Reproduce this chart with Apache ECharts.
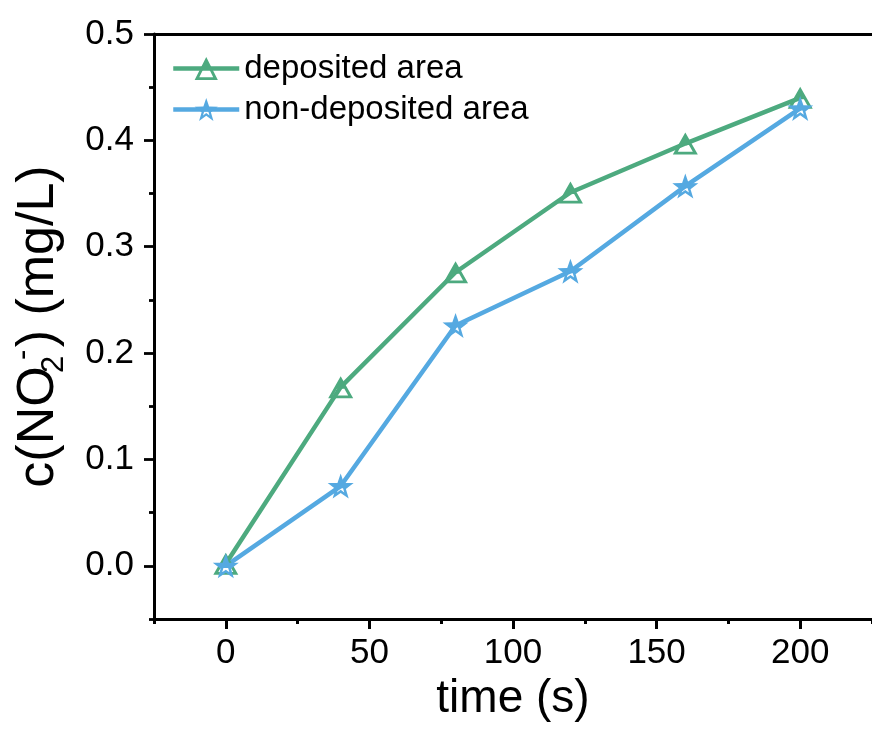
<!DOCTYPE html>
<html>
<head>
<meta charset="utf-8">
<script src="https://cdn.jsdelivr.net/npm/echarts@6/dist/echarts.min.js"></script>
<style>
  html, body { margin: 0; padding: 0; background: #ffffff; }
  #chart { width: 872px; height: 736px; }
</style>
</head>
<body>
<div id="chart"></div>
<script>
// Nitrite concentration over time
const timeSeconds = [0, 40, 80, 120, 160, 200];
const depositedArea = [0.002, 0.168, 0.276, 0.351, 0.397, 0.440];
const nonDepositedArea = [0.000, 0.075, 0.226, 0.277, 0.357, 0.430];
const seriesNames = ['deposited area', 'non-deposited area'];

// Axis ranges and tick positions
const xRange = [-25, 225];
const yRange = [-0.05, 0.5];
const xMajorTicks = [0, 50, 100, 150, 200];
const xMinorTicks = [-25, 25, 75, 125, 175, 225];
const yMajorTicks = [0, 0.1, 0.2, 0.3, 0.4, 0.5];
const yMinorTicks = [-0.05, 0.05, 0.15, 0.25, 0.35, 0.45];

const FONT = "'Liberation Sans', Arial, sans-serif";
const GREEN = '#4DAA7F';
const BLUE = '#55A9E1';
const AXIS = '#000000';

// ---- half-filled marker shapes (top half solid, bottom half hollow) ----
function polygonPath(pts) {
  return 'M' + pts.map(p => p[0].toFixed(2) + ',' + p[1].toFixed(2)).join('L') + 'Z';
}
function clipBelow(pts, cut) {
  const out = [];
  for (let i = 0; i < pts.length; i++) {
    const a = pts[i], b = pts[(i + 1) % pts.length];
    const ain = a[1] >= cut, bin = b[1] >= cut;
    if (ain) out.push(a);
    if (ain !== bin) {
      const t = (cut - a[1]) / (b[1] - a[1]);
      out.push([a[0] + t * (b[0] - a[0]), cut]);
    }
  }
  return out;
}
function halfFilledSymbol(outer, center, k, cut) {
  const inner = outer.map(p => [center[0] + k * (p[0] - center[0]), center[1] + k * (p[1] - center[1])]);
  const hole = clipBelow(inner, cut).reverse();
  return 'path://' + polygonPath(outer) + polygonPath(hole);
}

const triangleOuter = [[50, 0], [100, 100], [0, 100]];
const triangleSymbol = halfFilledSymbol(triangleOuter, [50, 69.1], 0.6, 57);

const starOuter = [];
for (let i = 0; i < 10; i++) {
  const ang = (-90 + i * 36) * Math.PI / 180;
  const r = i % 2 === 0 ? 50 : 20;
  starOuter.push([50 + r * Math.cos(ang), 50 + r * Math.sin(ang)]);
}
const starSymbol = halfFilledSymbol(starOuter, [50, 50], 0.45, 53);

const toPairs = ys => timeSeconds.map((t, i) => [t, ys[i]]);

const chart = echarts.init(document.getElementById('chart'), null, { renderer: 'canvas' });

const option = {
  animation: false,
  backgroundColor: '#ffffff',
  grid: { left: 152, top: 34, bottom: 117, right: -79, containLabel: false },
  legend: {
    orient: 'vertical',
    left: 171,
    top: 52,
    padding: 0,
    itemWidth: 66,
    itemHeight: 29,
    itemGap: 8,
    data: seriesNames,
    lineStyle: { width: 4.5 },
    textStyle: { fontFamily: FONT, fontSize: 33, color: '#000' }
  },
  xAxis: [
    {
      type: 'value', min: xRange[0], max: xRange[1], position: 'bottom',
      name: 'time (s)', nameLocation: 'middle', nameGap: 31,
      nameTextStyle: { fontFamily: FONT, fontSize: 46, color: '#000' },
      splitLine: { show: false },
      axisLine: { onZero: false, lineStyle: { color: AXIS, width: 2.8 } },
      axisTick: { show: true, customValues: xMajorTicks, length: 10, inside: false, lineStyle: { color: AXIS, width: 3 } },
      axisLabel: { customValues: xMajorTicks, margin: 17, fontFamily: FONT, fontSize: 35, color: '#000' }
    },
    {
      type: 'value', min: xRange[0], max: xRange[1], position: 'bottom',
      splitLine: { show: false },
      axisLine: { show: false, onZero: false },
      axisTick: { show: true, customValues: xMinorTicks, length: 5, lineStyle: { color: AXIS, width: 3 } },
      axisLabel: { show: false }
    },
    {
      type: 'value', min: xRange[0], max: xRange[1], position: 'top',
      splitLine: { show: false },
      axisLine: { show: true, onZero: false, lineStyle: { color: AXIS, width: 2.8 } },
      axisTick: { show: false },
      axisLabel: { show: false }
    }
  ],
  yAxis: [
    {
      type: 'value', min: yRange[0], max: yRange[1], position: 'left',
      name: '{t|c(NO}{sub|2}{sup|-}{t|) (mg/L)}',
      nameLocation: 'middle', nameGap: 84, nameRotate: 90,
      nameTextStyle: {
        fontFamily: FONT, color: '#000',
        rich: {
          t: { fontFamily: FONT, fontSize: 52, lineHeight: 62, color: '#000' },
          sub: { fontFamily: FONT, fontSize: 31, lineHeight: 31, verticalAlign: 'bottom', width: 4, color: '#000' },
          sup: { fontFamily: FONT, fontSize: 31, lineHeight: 31, verticalAlign: 'top', width: 15, color: '#000' }
        }
      },
      splitLine: { show: false },
      axisLine: { onZero: false, lineStyle: { color: AXIS, width: 3 } },
      axisTick: { show: true, customValues: yMajorTicks, length: 10, lineStyle: { color: AXIS, width: 2.8 } },
      axisLabel: {
        customValues: yMajorTicks, margin: 20, fontFamily: FONT, fontSize: 35, color: '#000',
        formatter: v => v.toFixed(1)
      }
    },
    {
      type: 'value', min: yRange[0], max: yRange[1], position: 'left',
      splitLine: { show: false },
      axisLine: { show: false, onZero: false },
      axisTick: { show: true, customValues: yMinorTicks, length: 5, lineStyle: { color: AXIS, width: 2.8 } },
      axisLabel: { show: false }
    }
  ],
  series: [
    {
      name: seriesNames[0], type: 'line', xAxisIndex: 0, yAxisIndex: 0,
      data: toPairs(depositedArea),
      symbol: triangleSymbol, symbolSize: [25, 22], symbolKeepAspect: false,
      lineStyle: { color: GREEN, width: 4.5 },
      itemStyle: { color: GREEN, borderWidth: 0 },
      emphasis: { disabled: true }
    },
    {
      name: seriesNames[1], type: 'line', xAxisIndex: 0, yAxisIndex: 0,
      data: toPairs(nonDepositedArea),
      symbol: starSymbol, symbolSize: [26, 25], symbolKeepAspect: false,
      lineStyle: { color: BLUE, width: 4.5 },
      itemStyle: { color: BLUE, borderWidth: 0 },
      emphasis: { disabled: true }
    }
  ]
};

chart.setOption(option);
</script>
</body>
</html>
